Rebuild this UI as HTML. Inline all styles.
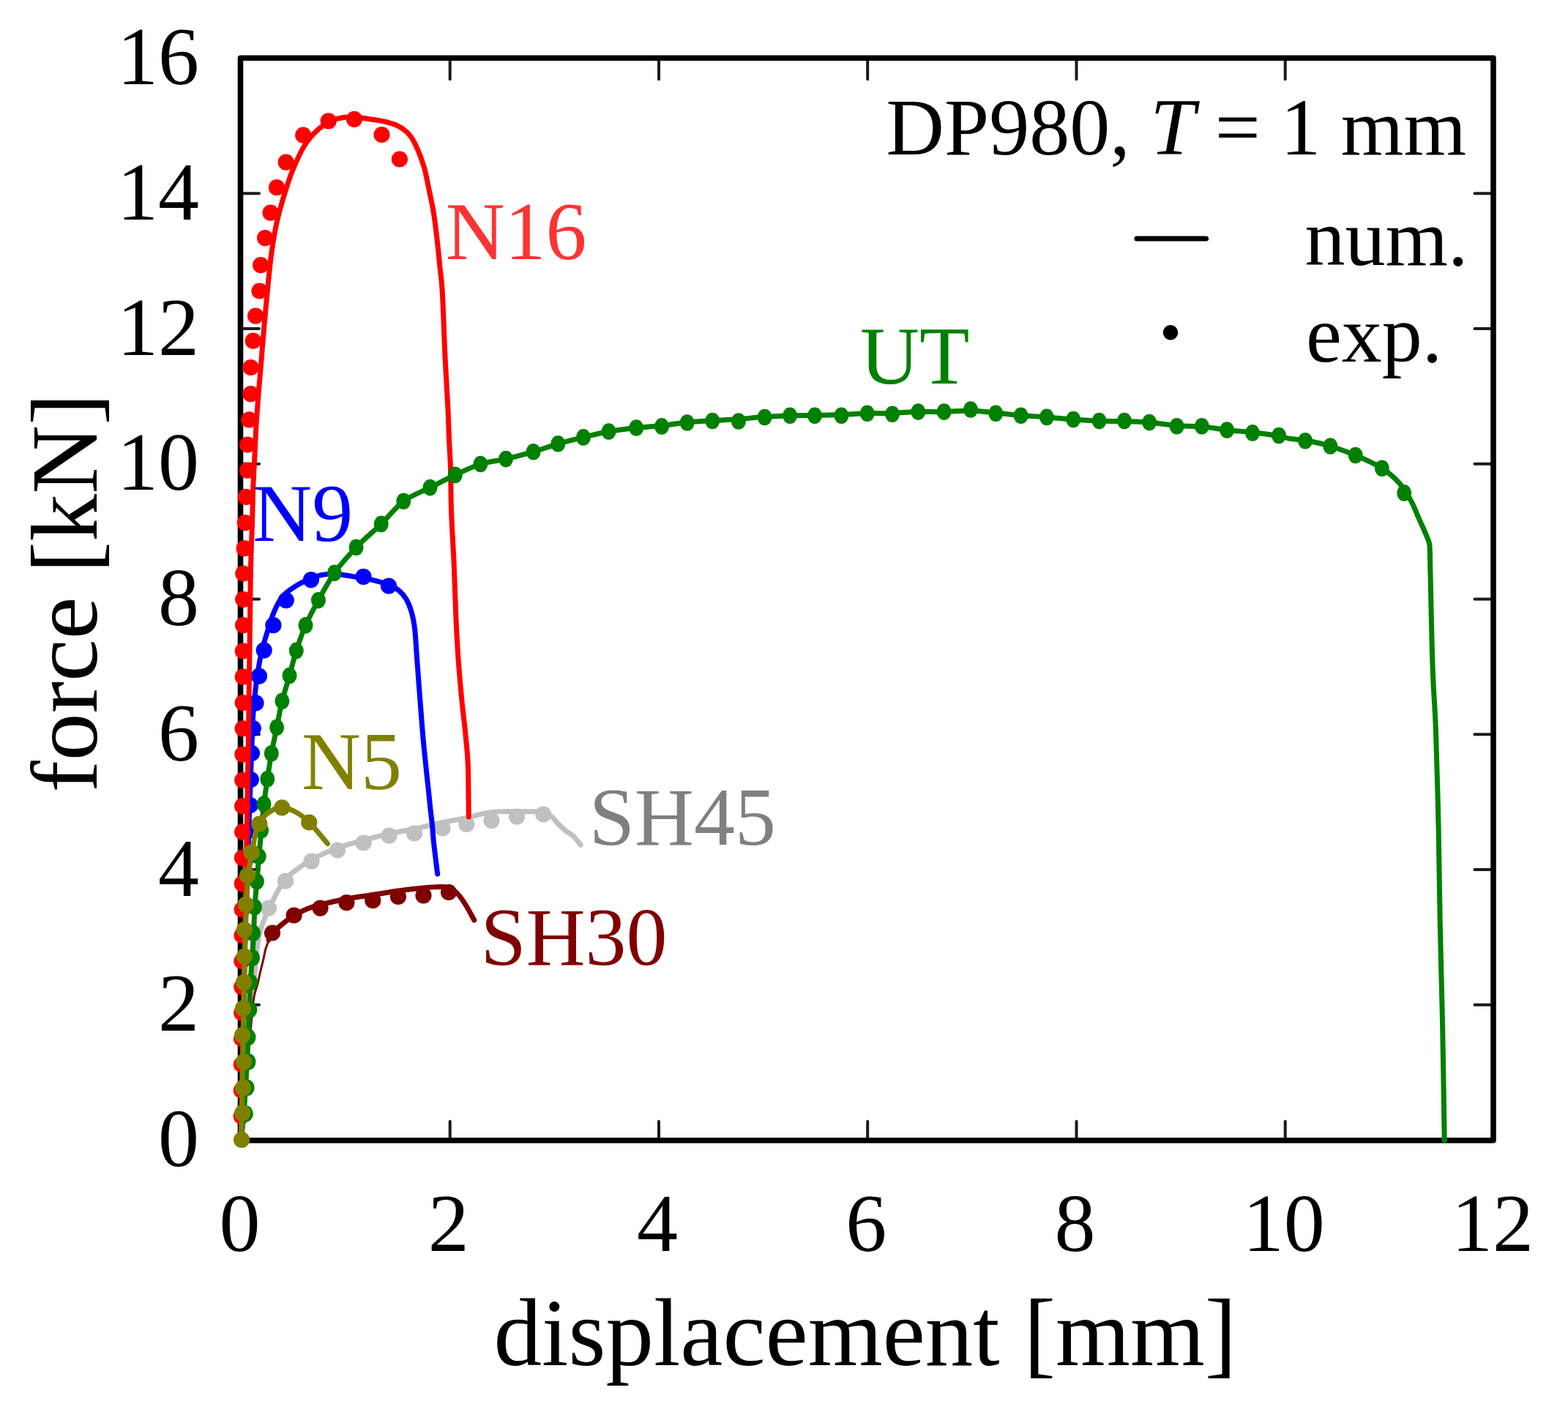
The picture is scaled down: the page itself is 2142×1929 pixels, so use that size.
<!DOCTYPE html>
<html><head><meta charset="utf-8"><style>
html,body{margin:0;padding:0;background:#fff;}
svg{display:block;}
text{font-family:"Liberation Serif","Times New Roman",serif;}
.t{font-size:112px;}
.l{font-size:110px;}
.c{font-size:112px;}
.a{font-size:131px;}
.f{font-size:130px;}
</style></head><body>
<svg width="2142" height="1929" viewBox="0 0 2142 1929">
<rect width="2142" height="1929" fill="#fff"/>
<path d="M614.7 1558.0V1532.0M614.7 79.3V108.3M900.0 1558.0V1532.0M900.0 79.3V108.3M1185.2 1558.0V1532.0M1185.2 79.3V108.3M1470.5 1558.0V1532.0M1470.5 79.3V108.3M1755.7 1558.0V1532.0M1755.7 79.3V108.3M328.5 1372.8H354.0M2040.0 1372.8H2014.5M328.5 1188.1H354.0M2040.0 1188.1H2014.5M328.5 1003.3H354.0M2040.0 1003.3H2014.5M328.5 818.6H354.0M2040.0 818.6H2014.5M328.5 633.8H354.0M2040.0 633.8H2014.5M328.5 449.1H354.0M2040.0 449.1H2014.5M328.5 264.3H354.0M2040.0 264.3H2014.5" stroke="#1a1a1a" stroke-width="4" stroke-linecap="round" fill="none"/>
<rect x="328.5" y="79.3" width="1711.5" height="1478.7" fill="none" stroke="#000" stroke-width="7.6" stroke-linejoin="round"/>
<path d="M329.5 1557.6C330.2 1544.7 332.4 1504.6 334.0 1480.0C335.6 1455.4 337.5 1428.0 339.0 1410.0C340.5 1392.0 341.8 1382.3 343.0 1372.0C344.2 1361.7 345.1 1356.0 346.0 1348.0C346.9 1340.0 347.8 1331.7 348.5 1324.0C349.2 1316.3 349.7 1309.2 350.5 1302.0C351.3 1294.8 352.2 1287.3 353.5 1281.0C354.8 1274.7 355.8 1270.5 358.0 1264.0C360.2 1257.5 363.8 1249.0 367.0 1242.0C370.2 1235.0 373.2 1228.8 377.0 1222.0C380.8 1215.2 384.8 1207.0 390.0 1201.0C395.2 1195.0 402.0 1190.5 408.0 1186.0C414.0 1181.5 417.0 1178.6 425.8 1174.0C434.6 1169.4 449.4 1162.8 460.8 1158.5C472.2 1154.2 482.7 1151.8 494.5 1148.5C506.3 1145.2 519.6 1141.7 531.5 1139.0C543.4 1136.3 557.1 1134.3 566.0 1132.5C574.9 1130.7 578.8 1129.4 585.0 1128.0C591.2 1126.6 597.2 1125.2 603.0 1124.0C608.8 1122.8 613.0 1122.0 620.0 1120.6C627.0 1119.2 638.1 1117.1 644.7 1115.6C651.3 1114.1 653.5 1112.8 659.6 1111.7C665.7 1110.6 669.9 1109.2 681.4 1108.7C692.9 1108.2 718.5 1108.5 728.9 1108.7C739.3 1108.9 739.6 1108.6 743.7 1109.7C747.8 1110.8 750.3 1112.8 753.6 1115.6C756.9 1118.4 760.2 1123.2 763.5 1126.5C766.8 1129.8 770.1 1132.8 773.4 1135.4C776.7 1138.0 780.0 1139.2 783.3 1142.3C786.6 1145.4 791.6 1152.2 793.2 1154.2" fill="none" stroke="#c0c0c0" stroke-width="7.0" stroke-linejoin="round" stroke-linecap="round"/>
<g fill="#c0c0c0"><circle cx="367.0" cy="1240.6" r="11.1"/><circle cx="390.0" cy="1203.6" r="11.1"/><circle cx="425.5" cy="1176.6" r="11.1"/><circle cx="461.0" cy="1161.5" r="11.1"/><circle cx="496.5" cy="1151.5" r="11.1"/><circle cx="531.5" cy="1141.6" r="11.1"/><circle cx="566.0" cy="1138.5" r="11.1"/><circle cx="604.5" cy="1131.5" r="11.1"/><circle cx="637.3" cy="1126.0" r="11.1"/><circle cx="671.5" cy="1121.1" r="11.1"/><circle cx="706.1" cy="1115.6" r="11.1"/><circle cx="742.2" cy="1112.5" r="11.1"/></g>
<path d="M329.5 1557.6C330.8 1543.0 334.8 1496.3 337.0 1470.0C339.2 1443.7 341.3 1418.0 343.0 1400.0C344.7 1382.0 345.5 1371.3 347.0 1362.0C348.5 1352.7 350.6 1349.7 352.0 1344.0C353.4 1338.3 354.2 1333.3 355.5 1328.0C356.8 1322.7 358.2 1317.3 359.5 1312.0C360.8 1306.7 361.6 1300.8 363.0 1296.0C364.4 1291.2 366.7 1286.2 368.0 1283.0C369.3 1279.8 370.5 1278.0 371.0 1277.0" fill="none" stroke="#800000" stroke-width="3" stroke-linejoin="round" stroke-linecap="round"/>
<path d="M367.0 1284.0C368.0 1282.3 370.0 1277.5 373.0 1274.0C376.0 1270.5 380.2 1266.9 385.0 1263.0C389.8 1259.1 396.2 1254.1 402.0 1250.5C407.8 1246.9 414.1 1243.9 420.0 1241.5C425.9 1239.1 428.6 1238.2 437.5 1236.0C446.4 1233.8 461.4 1230.2 473.4 1228.0C485.4 1225.8 497.6 1224.3 509.3 1222.5C521.0 1220.7 532.4 1218.6 543.9 1217.0C555.4 1215.4 568.6 1213.9 578.5 1213.0C588.4 1212.1 596.9 1211.4 603.0 1211.5C609.1 1211.6 611.2 1211.8 615.0 1213.5C618.8 1215.2 622.5 1218.2 626.0 1222.0C629.5 1225.8 632.4 1230.2 636.0 1236.0C639.6 1241.8 645.8 1253.5 647.8 1257.0" fill="none" stroke="#800000" stroke-width="7.0" stroke-linejoin="round" stroke-linecap="round"/>
<g fill="#800000"><circle cx="372.0" cy="1274.5" r="11.1"/><circle cx="401.6" cy="1250.5" r="11.1"/><circle cx="437.5" cy="1240.6" r="11.1"/><circle cx="473.4" cy="1233.2" r="11.1"/><circle cx="509.3" cy="1230.2" r="11.1"/><circle cx="543.9" cy="1225.0" r="11.1"/><circle cx="578.5" cy="1223.3" r="11.1"/><circle cx="613.0" cy="1219.0" r="11.1"/></g>
<path d="M329.5 1557.6C329.8 1539.7 330.8 1486.3 331.5 1450.0C332.2 1413.7 332.8 1371.7 333.5 1340.0C334.2 1308.3 334.8 1285.0 335.5 1260.0C336.2 1235.0 337.1 1216.7 338.0 1190.0C338.9 1163.3 339.9 1131.7 341.0 1100.0C342.1 1068.3 343.9 1021.0 344.7 1000.0C345.5 979.0 345.1 984.8 346.0 973.8C346.9 962.8 348.2 947.1 350.0 933.7C351.8 920.3 354.0 905.9 356.7 893.6C359.4 881.4 363.0 870.2 366.1 860.2C369.2 850.2 371.8 841.3 375.4 833.5C378.9 825.7 382.5 819.0 387.4 813.4C392.3 807.8 398.8 803.9 404.8 800.1C410.8 796.3 417.7 793.2 423.5 790.7C429.3 788.2 434.0 786.5 439.6 785.4C445.2 784.3 450.7 783.8 456.9 784.0C463.1 784.2 468.5 785.4 477.0 786.7C485.5 788.1 498.8 790.1 507.7 792.1C516.6 794.1 524.2 796.3 530.4 798.7C536.5 801.1 540.5 803.1 544.6 806.4C548.7 809.7 552.2 813.7 555.1 818.7C558.0 823.7 560.3 829.5 562.2 836.2C564.1 842.9 565.4 849.4 566.6 859.1C567.8 868.8 568.3 882.5 569.2 894.2C570.1 905.9 570.9 917.7 571.8 929.4C572.7 941.1 573.5 951.3 574.5 964.5C575.5 977.7 576.7 993.9 578.0 1008.5C579.3 1023.1 581.2 1040.5 582.4 1052.4C583.6 1064.3 584.5 1071.6 585.4 1080.0C586.3 1088.4 586.9 1095.3 587.7 1103.0C588.5 1110.7 589.6 1118.5 590.4 1126.2C591.2 1133.9 591.5 1141.5 592.3 1149.2C593.1 1156.9 594.1 1164.8 595.0 1172.3C595.9 1179.8 597.2 1190.4 597.7 1194.0" fill="none" stroke="#0000ff" stroke-width="7.0" stroke-linejoin="round" stroke-linecap="round"/>
<g fill="#0000ff"><circle cx="531.0" cy="800.5" r="11.1"/><circle cx="496.5" cy="787.8" r="11.1"/><circle cx="424.9" cy="792.1" r="11.1"/><circle cx="390.8" cy="820.1" r="11.1"/><circle cx="373.4" cy="854.2" r="11.1"/><circle cx="360.7" cy="888.3" r="11.1"/><circle cx="354.0" cy="923.7" r="11.1"/><circle cx="349.5" cy="960.4" r="11.1"/><circle cx="345.8" cy="995.0" r="11.1"/><circle cx="344.0" cy="1029.0" r="11.1"/><circle cx="342.8" cy="1065.0" r="11.1"/><circle cx="341.8" cy="1100.0" r="11.1"/><circle cx="340.8" cy="1134.5" r="11.1"/><circle cx="339.6" cy="1170.0" r="11.1"/></g>
<path d="M329.5 1557.6C330.0 1531.3 331.4 1459.6 332.5 1400.0C333.6 1340.4 334.8 1266.7 336.0 1200.0C337.2 1133.3 338.6 1058.3 339.5 1000.0C340.4 941.7 341.0 887.4 341.5 850.0C342.0 812.6 342.0 799.0 342.5 775.6C343.0 752.2 344.1 728.0 344.7 709.7C345.2 691.4 345.2 680.4 345.8 665.7C346.4 651.1 347.3 636.4 348.0 621.8C348.7 607.1 349.3 592.5 350.2 577.8C351.1 563.1 352.3 548.4 353.5 533.8C354.7 519.1 356.0 504.5 357.2 489.9C358.4 475.2 359.5 461.0 360.8 445.9C362.1 430.8 363.6 415.4 365.2 399.2C366.8 383.0 368.4 364.1 370.5 348.7C372.6 333.3 374.7 319.8 377.5 306.6C380.3 293.4 383.7 281.7 387.3 269.6C390.9 257.6 394.3 246.1 399.1 234.3C403.9 222.5 410.0 208.5 415.9 199.0C421.8 189.5 427.9 182.8 434.4 177.1C440.8 171.3 448.4 167.3 454.6 164.5C460.8 161.7 465.8 161.0 471.4 160.3C477.0 159.6 482.6 159.9 488.2 160.3C493.8 160.7 499.4 162.0 505.0 162.8C510.6 163.6 515.4 163.8 521.9 165.3C528.4 166.9 537.6 169.0 543.8 172.1C550.0 175.2 554.7 179.0 558.9 183.8C563.1 188.6 565.6 193.4 569.0 200.7C572.4 208.0 576.3 218.1 579.1 227.6C581.9 237.1 583.6 247.2 585.8 257.9C588.0 268.5 590.5 279.2 592.5 291.5C594.5 303.8 596.2 319.6 597.6 331.9C599.0 344.2 599.9 354.3 601.0 365.5C602.1 376.7 603.1 378.9 604.3 399.2C605.5 419.4 606.7 460.2 608.0 487.0C609.3 513.8 611.1 541.2 612.0 560.0C612.9 578.8 612.9 586.7 613.5 600.0C614.1 613.3 615.0 623.3 615.5 640.0C616.0 656.7 615.8 678.2 616.6 700.0C617.4 721.8 619.2 747.3 620.2 771.0C621.2 794.7 621.8 820.3 622.8 842.0C623.8 863.7 624.7 881.3 626.1 901.0C627.5 920.7 629.5 942.5 631.2 960.0C632.9 977.5 634.9 991.8 636.2 1006.0C637.6 1020.2 638.6 1026.7 639.3 1045.0C640.0 1063.3 640.1 1104.2 640.3 1116.0" fill="none" stroke="#ff0000" stroke-width="7.0" stroke-linejoin="round" stroke-linecap="round"/>
<g fill="#ff0000"><circle cx="354.5" cy="397.5" r="11.1"/><circle cx="356.2" cy="362.2" r="11.1"/><circle cx="362.1" cy="325.2" r="11.1"/><circle cx="369.6" cy="290.7" r="11.1"/><circle cx="378.0" cy="256.2" r="11.1"/><circle cx="390.7" cy="221.7" r="11.1"/><circle cx="414.2" cy="184.7" r="11.1"/><circle cx="448.7" cy="165.3" r="11.1"/><circle cx="484.0" cy="162.8" r="11.1"/><circle cx="521.5" cy="184.0" r="11.1"/><circle cx="545.9" cy="217.5" r="11.1"/><circle cx="349.1" cy="431.6" r="11.1"/><circle cx="345.8" cy="465.7" r="11.1"/><circle cx="342.5" cy="502.0" r="11.1"/><circle cx="342.5" cy="538.2" r="11.1"/><circle cx="340.3" cy="573.4" r="11.1"/><circle cx="338.1" cy="607.5" r="11.1"/><circle cx="338.1" cy="642.6" r="11.1"/><circle cx="335.9" cy="678.9" r="11.1"/><circle cx="334.8" cy="714.1" r="11.1"/><circle cx="333.7" cy="749.2" r="11.1"/><circle cx="332.3" cy="783.5" r="11.1"/><circle cx="332.2" cy="818.8" r="11.1"/><circle cx="332.1" cy="854.1" r="11.1"/><circle cx="331.9" cy="889.4" r="11.1"/><circle cx="331.8" cy="924.7" r="11.1"/><circle cx="331.7" cy="960.0" r="11.1"/><circle cx="331.6" cy="995.3" r="11.1"/><circle cx="331.4" cy="1030.6" r="11.1"/><circle cx="331.3" cy="1065.9" r="11.1"/><circle cx="331.2" cy="1101.2" r="11.1"/><circle cx="331.1" cy="1136.5" r="11.1"/><circle cx="330.9" cy="1171.8" r="11.1"/><circle cx="330.8" cy="1207.1" r="11.1"/><circle cx="330.7" cy="1242.4" r="11.1"/><circle cx="330.6" cy="1277.7" r="11.1"/><circle cx="330.4" cy="1313.0" r="11.1"/><circle cx="330.3" cy="1348.3" r="11.1"/><circle cx="330.2" cy="1383.6" r="11.1"/><circle cx="330.1" cy="1418.9" r="11.1"/><circle cx="330.0" cy="1454.2" r="11.1"/><circle cx="329.8" cy="1489.5" r="11.1"/><circle cx="329.7" cy="1524.8" r="11.1"/></g>
<path d="M329.5 1557.6C330.1 1551.5 332.0 1532.9 333.0 1521.0C334.0 1509.1 334.8 1497.8 335.5 1486.0C336.2 1474.2 336.9 1461.5 337.5 1450.0C338.1 1438.5 338.5 1428.7 339.0 1417.0C339.5 1405.3 340.0 1392.5 340.5 1380.0C341.0 1367.5 341.3 1354.0 342.0 1342.0C342.7 1330.0 343.8 1319.2 344.5 1308.0C345.2 1296.8 345.9 1287.0 346.5 1275.0C347.1 1263.0 347.5 1247.8 348.2 1236.0C348.9 1224.2 350.0 1215.3 350.9 1204.3C351.8 1193.3 352.7 1181.7 353.7 1170.0C354.7 1158.3 356.0 1146.2 357.1 1134.3C358.2 1122.4 359.1 1110.2 360.5 1098.5C361.9 1086.8 363.6 1075.8 365.3 1064.2C367.0 1052.7 368.7 1040.9 370.8 1029.2C372.9 1017.5 375.7 1005.7 378.1 993.8C380.5 981.9 382.5 969.5 385.4 957.7C388.3 945.9 392.3 934.5 395.5 923.0C398.7 911.5 401.1 900.4 404.8 888.9C408.5 877.4 412.5 865.7 417.5 854.2C422.5 842.7 428.3 832.0 434.9 820.1C441.5 808.2 448.3 794.8 456.9 782.7C465.5 770.7 476.0 758.9 486.6 747.8C497.2 736.7 509.9 726.4 520.7 715.9C531.5 705.4 540.1 693.0 551.2 684.7C562.3 676.4 575.7 672.1 587.5 666.1C599.3 660.1 610.3 654.2 621.8 648.9C633.3 643.5 644.9 637.6 656.4 634.0C667.9 630.4 679.0 629.9 691.0 627.1C703.0 624.3 716.7 620.7 728.6 617.2C740.5 613.7 750.9 609.6 762.3 606.3C773.7 603.0 785.3 600.2 796.9 597.4C808.5 594.6 819.5 591.6 831.6 589.5C843.7 587.4 857.2 585.8 869.2 584.5C881.2 583.2 892.3 582.9 903.8 581.6C915.3 580.4 926.8 578.2 938.4 577.0C950.0 575.8 961.4 575.4 973.1 574.6C984.9 573.9 997.0 573.4 1008.9 572.5C1020.8 571.6 1032.8 570.3 1044.5 569.5C1056.2 568.7 1067.7 568.1 1079.1 567.8C1090.5 567.5 1101.3 567.7 1113.0 567.5C1124.7 567.3 1137.5 567.0 1149.4 566.5C1161.4 566.0 1173.1 565.0 1184.7 564.7C1196.3 564.4 1207.4 564.9 1219.0 564.5C1230.6 564.1 1242.5 562.9 1254.3 562.6C1266.1 562.3 1277.6 562.9 1289.6 562.6C1301.5 562.3 1314.2 560.8 1326.0 561.0C1337.8 561.2 1348.9 562.9 1360.3 564.0C1371.7 565.1 1383.0 566.5 1394.6 567.5C1406.2 568.5 1418.0 569.0 1429.9 569.9C1441.8 570.8 1454.2 572.1 1466.2 573.0C1478.2 573.9 1490.0 574.7 1501.6 575.1C1513.2 575.5 1524.5 575.3 1535.9 575.6C1547.3 575.9 1558.1 576.1 1570.1 577.1C1582.0 578.1 1595.6 580.5 1607.6 581.5C1619.5 582.5 1630.4 581.8 1641.8 582.8C1653.2 583.8 1664.5 586.2 1676.1 587.5C1687.7 588.8 1699.7 589.4 1711.5 590.7C1723.3 592.0 1738.4 594.1 1746.8 595.5C1755.2 596.9 1756.0 598.3 1762.0 599.3C1768.0 600.3 1776.8 600.5 1783.1 601.5C1789.4 602.5 1794.3 603.7 1800.0 605.0C1805.7 606.3 1808.8 606.7 1817.4 609.5C1826.0 612.3 1840.0 617.0 1851.7 622.0C1863.5 627.0 1877.9 633.4 1887.9 639.8C1897.9 646.2 1905.1 652.8 1911.7 660.2C1918.3 667.6 1923.1 676.1 1927.5 684.0C1931.9 691.9 1934.0 698.7 1938.0 707.7C1942.0 716.7 1948.7 731.0 1951.2 738.0C1953.7 745.0 1952.7 742.3 1953.2 750.0C1953.7 757.7 1953.3 757.0 1954.0 784.0C1954.7 811.0 1955.8 875.9 1957.1 911.9C1958.3 947.9 1960.2 963.2 1961.5 999.8C1962.8 1036.4 1964.1 1087.6 1965.1 1131.6C1966.1 1175.5 1966.4 1219.5 1967.3 1263.5C1968.2 1307.5 1969.5 1346.3 1970.5 1395.4C1971.5 1444.5 1972.8 1530.9 1973.2 1558.0" fill="none" stroke="#008000" stroke-width="7.0" stroke-linejoin="round" stroke-linecap="round"/>
<g fill="#008000"><ellipse cx="335.8" cy="1521.6" rx="10.0" ry="11.3"/><ellipse cx="337.6" cy="1486.1" rx="10.0" ry="11.3"/><ellipse cx="339.5" cy="1450.6" rx="10.0" ry="11.3"/><ellipse cx="339.5" cy="1416.9" rx="10.0" ry="11.3"/><ellipse cx="341.4" cy="1379.5" rx="10.0" ry="11.3"/><ellipse cx="342.3" cy="1342.1" rx="10.0" ry="11.3"/><ellipse cx="345.1" cy="1308.5" rx="10.0" ry="11.3"/><ellipse cx="346.0" cy="1274.9" rx="10.0" ry="11.3"/><ellipse cx="347.9" cy="1239.3" rx="10.0" ry="11.3"/><ellipse cx="350.9" cy="1204.3" rx="10.0" ry="11.3"/><ellipse cx="353.7" cy="1170.0" rx="10.0" ry="11.3"/><ellipse cx="357.1" cy="1134.3" rx="10.0" ry="11.3"/><ellipse cx="360.5" cy="1098.5" rx="10.0" ry="11.3"/><ellipse cx="365.3" cy="1064.2" rx="10.0" ry="11.3"/><ellipse cx="370.8" cy="1029.2" rx="10.0" ry="11.3"/><ellipse cx="378.1" cy="993.8" rx="10.0" ry="11.3"/><ellipse cx="385.4" cy="957.7" rx="10.0" ry="11.3"/><ellipse cx="395.5" cy="923.0" rx="10.0" ry="11.3"/><ellipse cx="404.8" cy="888.9" rx="10.0" ry="11.3"/><ellipse cx="417.5" cy="854.2" rx="10.0" ry="11.3"/><ellipse cx="434.9" cy="820.1" rx="10.0" ry="11.3"/><ellipse cx="456.9" cy="782.7" rx="10.0" ry="11.3"/><ellipse cx="486.6" cy="747.8" rx="10.0" ry="11.3"/><ellipse cx="520.7" cy="715.9" rx="10.0" ry="11.3"/><ellipse cx="551.2" cy="684.7" rx="10.0" ry="11.3"/><ellipse cx="587.5" cy="666.1" rx="10.0" ry="11.3"/><ellipse cx="621.8" cy="648.9" rx="10.0" ry="11.3"/><ellipse cx="656.4" cy="634.0" rx="10.0" ry="11.3"/><ellipse cx="691.0" cy="627.1" rx="10.0" ry="11.3"/><ellipse cx="728.6" cy="617.2" rx="10.0" ry="11.3"/><ellipse cx="762.3" cy="606.3" rx="10.0" ry="11.3"/><ellipse cx="796.9" cy="597.4" rx="10.0" ry="11.3"/><ellipse cx="831.6" cy="589.5" rx="10.0" ry="11.3"/><ellipse cx="869.2" cy="584.5" rx="10.0" ry="11.3"/><ellipse cx="904.0" cy="582.4" rx="10.0" ry="11.3"/><ellipse cx="938.6" cy="577.5" rx="10.0" ry="11.3"/><ellipse cx="973.2" cy="575.0" rx="10.0" ry="11.3"/><ellipse cx="1008.9" cy="575.5" rx="10.0" ry="11.3"/><ellipse cx="1044.6" cy="570.0" rx="10.0" ry="11.3"/><ellipse cx="1079.1" cy="567.8" rx="10.0" ry="11.3"/><ellipse cx="1113.0" cy="567.8" rx="10.0" ry="11.3"/><ellipse cx="1149.4" cy="567.8" rx="10.0" ry="11.3"/><ellipse cx="1184.7" cy="564.7" rx="10.0" ry="11.3"/><ellipse cx="1219.0" cy="565.7" rx="10.0" ry="11.3"/><ellipse cx="1254.3" cy="562.6" rx="10.0" ry="11.3"/><ellipse cx="1289.6" cy="562.6" rx="10.0" ry="11.3"/><ellipse cx="1326.0" cy="559.5" rx="10.0" ry="11.3"/><ellipse cx="1360.3" cy="564.7" rx="10.0" ry="11.3"/><ellipse cx="1394.6" cy="567.8" rx="10.0" ry="11.3"/><ellipse cx="1429.9" cy="569.9" rx="10.0" ry="11.3"/><ellipse cx="1466.2" cy="573.0" rx="10.0" ry="11.3"/><ellipse cx="1501.6" cy="575.1" rx="10.0" ry="11.3"/><ellipse cx="1535.9" cy="575.1" rx="10.0" ry="11.3"/><ellipse cx="1570.1" cy="577.1" rx="10.0" ry="11.3"/><ellipse cx="1607.6" cy="582.3" rx="10.0" ry="11.3"/><ellipse cx="1641.8" cy="582.3" rx="10.0" ry="11.3"/><ellipse cx="1676.1" cy="587.5" rx="10.0" ry="11.3"/><ellipse cx="1711.0" cy="591.4" rx="10.0" ry="11.3"/><ellipse cx="1747.0" cy="595.0" rx="10.0" ry="11.3"/><ellipse cx="1783.1" cy="602.2" rx="10.0" ry="11.3"/><ellipse cx="1817.4" cy="609.5" rx="10.0" ry="11.3"/><ellipse cx="1851.7" cy="622.0" rx="10.0" ry="11.3"/><ellipse cx="1887.9" cy="639.8" rx="10.0" ry="11.3"/><ellipse cx="1918.2" cy="673.4" rx="10.0" ry="11.3"/></g>
<path d="M329.5 1557.6C329.8 1539.7 330.8 1486.3 331.5 1450.0C332.2 1413.7 332.9 1368.3 333.5 1340.0C334.1 1311.7 334.5 1297.1 335.0 1280.0C335.5 1262.9 335.8 1251.3 336.5 1237.3C337.2 1223.3 337.8 1208.7 339.2 1196.1C340.6 1183.5 342.9 1172.0 344.7 1161.7C346.5 1151.4 347.9 1141.6 350.2 1134.3C352.5 1127.0 355.3 1122.1 358.5 1117.8C361.7 1113.5 365.1 1111.0 369.5 1108.5C373.9 1106.0 378.7 1102.2 384.6 1102.5C390.6 1102.8 398.9 1106.6 405.2 1110.0C411.5 1113.4 418.0 1119.0 422.5 1123.0C427.0 1127.0 427.8 1129.1 432.0 1134.0C436.2 1138.9 444.9 1149.4 447.5 1152.5" fill="none" stroke="#808000" stroke-width="7.0" stroke-linejoin="round" stroke-linecap="round"/>
<g fill="#808000"><circle cx="330.1" cy="1557.1" r="11.1"/><circle cx="331.1" cy="1520.7" r="11.1"/><circle cx="332.0" cy="1486.1" r="11.1"/><circle cx="333.0" cy="1450.6" r="11.1"/><circle cx="331.1" cy="1414.1" r="11.1"/><circle cx="332.0" cy="1377.7" r="11.1"/><circle cx="333.0" cy="1342.1" r="11.1"/><circle cx="333.9" cy="1306.6" r="11.1"/><circle cx="333.9" cy="1270.2" r="11.1"/><circle cx="335.8" cy="1235.6" r="11.1"/><circle cx="337.9" cy="1196.1" r="11.1"/><circle cx="343.5" cy="1164.5" r="11.1"/><circle cx="354.3" cy="1125.5" r="11.1"/><circle cx="385.3" cy="1103.3" r="11.1"/><circle cx="422.3" cy="1123.5" r="11.1"/></g>
<path d="M1553 326H1647.5" stroke="#000" stroke-width="7.2" stroke-linecap="round"/>
<circle cx="1599" cy="454.2" r="10.3" fill="#000"/>
<text x="272" y="1593.0" text-anchor="end" class="t">0</text>
<text x="272" y="1408.2" text-anchor="end" class="t">2</text>
<text x="272" y="1223.5" text-anchor="end" class="t">4</text>
<text x="272" y="1038.7" text-anchor="end" class="t">6</text>
<text x="272" y="854.0" text-anchor="end" class="t">8</text>
<text x="272" y="669.2" text-anchor="end" class="t">10</text>
<text x="272" y="484.5" text-anchor="end" class="t">12</text>
<text x="272" y="299.7" text-anchor="end" class="t">14</text>
<text x="272" y="115.0" text-anchor="end" class="t">16</text>
<text x="327.5" y="1709" text-anchor="middle" class="t">0</text>
<text x="612.7" y="1709" text-anchor="middle" class="t">2</text>
<text x="898.0" y="1709" text-anchor="middle" class="t">4</text>
<text x="1183.2" y="1709" text-anchor="middle" class="t">6</text>
<text x="1468.5" y="1709" text-anchor="middle" class="t">8</text>
<text x="1753.7" y="1709" text-anchor="middle" class="t">10</text>
<text x="2038.9" y="1709" text-anchor="middle" class="t">12</text>
<text x="1182" y="1865" text-anchor="middle" class="a">displacement [mm]</text>
<text transform="translate(132 810) rotate(-90)" text-anchor="middle" class="f">force [kN]</text>
<text x="2003" y="211" text-anchor="end" class="l">DP980, <tspan font-style="italic">T</tspan> = 1 mm</text>
<text x="1782.5" y="362" class="l">num.</text>
<text x="1784" y="494" class="l">exp.</text>
<text x="608.7" y="353.5" class="c" fill="#ff3333">N16</text>
<text x="345.3" y="739.3" class="c" fill="#0000ff">N9</text>
<text x="412" y="1078.3" class="c" fill="#808000">N5</text>
<text x="804.8" y="1154" class="c" fill="#808080">SH45</text>
<text x="656.4" y="1318.3" class="c" fill="#800000">SH30</text>
<text x="1175" y="523.9" class="c" fill="#008000">UT</text>
</svg>
</body></html>
